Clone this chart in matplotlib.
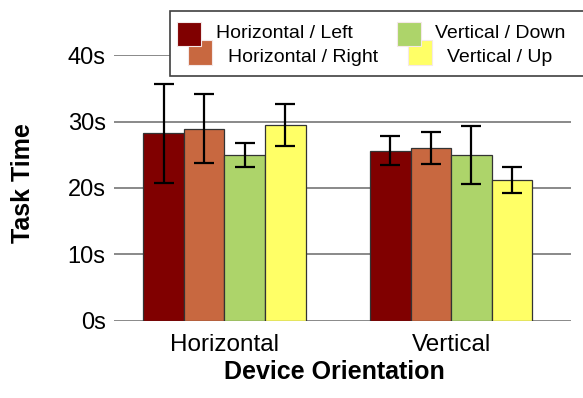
import numpy as np
import matplotlib
matplotlib.use("Agg")
import matplotlib.pyplot as plt
from matplotlib.patches import Rectangle

plt.rcParams['font.family'] = ['Liberation Sans', 'DejaVu Sans']

groups = ['Horizontal', 'Vertical']
series = ['Horizontal / Left', 'Horizontal / Right', 'Vertical / Down', 'Vertical / Up']
colors = ['#800000', '#C86840', '#ADD46A', '#FFFF66']

horiz_left = [28.2, 25.6]
horiz_left_err = [7.5, 2.2]
horiz_right = [28.9, 26.0]
horiz_right_err = [5.2, 2.4]
vert_down = [24.9, 24.9]
vert_down_err = [1.8, 4.35]
vert_up = [29.5, 21.2]
vert_up_err = [3.15, 2.0]

means = [horiz_left, horiz_right, vert_down, vert_up]
errs = [horiz_left_err, horiz_right_err, vert_down_err, vert_up_err]

W, H = 583, 398
fig = plt.figure(figsize=(W / 100, H / 100), dpi=100)

def fx(px):
    return px / W

def fy(py):
    return 1 - py / H

ax = fig.add_axes([fx(114), fy(320.5), (571 - 114) / W, (320.5 - 55.2) / H])

x = np.arange(len(groups))
width = 0.179
for i in range(4):
    ax.bar(x + (i - 1.5) * width, means[i], width, color=colors[i],
           edgecolor='#333333', linewidth=0.9, yerr=errs[i], capsize=7,
           error_kw=dict(elinewidth=1.6, capthick=1.6, ecolor='black'))

ax.set_xlim(-0.487, 1.529)
ax.set_ylim(0, 40)
ax.set_yticks([0, 10, 20, 30, 40])
ax.set_yticklabels(['0s', '10s', '20s', '30s', '40s'])
ax.set_xticks(x)
ax.set_xticklabels(groups)
ax.tick_params(axis='both', length=0, labelsize=17)
ax.tick_params(axis='y', pad=6)
ax.tick_params(axis='x', pad=10, labelsize=17.5)
for s in ax.spines.values():
    s.set_visible(False)
ax.yaxis.grid(True, color='#808080', linewidth=1.3)
ax.set_axisbelow(True)

fig.text(fx(23), fy(183), 'Task Time', rotation=90, ha='center', va='center',
         fontsize=18, fontweight='bold')
fig.text(fx(334), fy(379), 'Device Orientation', ha='center', va='baseline',
         fontsize=18, fontweight='bold')

# staggered legend box
fig.patches.append(Rectangle((fx(170), fy(76)), fx(600) - fx(170), fy(11) - fy(76),
                             transform=fig.transFigure, facecolor='white',
                             edgecolor='#404040', linewidth=1.2, zorder=2))
sq = 24.5
legend_pos = [(176.7, 21.7, 216, 38.3), (187.7, 40.5, 228, 62.5),
              (396.7, 21.7, 435, 38.3), (407.7, 40.5, 447, 62.5)]
for i in [1, 0, 3, 2]:
    px, py, tx, ty = legend_pos[i]
    fig.patches.append(Rectangle((fx(px), fy(py + sq)), sq / W, sq / H,
                                 transform=fig.transFigure, facecolor=colors[i],
                                 edgecolor='#F4E8E8', linewidth=0.8, zorder=3))
    fig.text(fx(tx), fy(ty), series[i], ha='left', va='baseline', fontsize=14, zorder=4)

fig.savefig('out.png', dpi=100)
